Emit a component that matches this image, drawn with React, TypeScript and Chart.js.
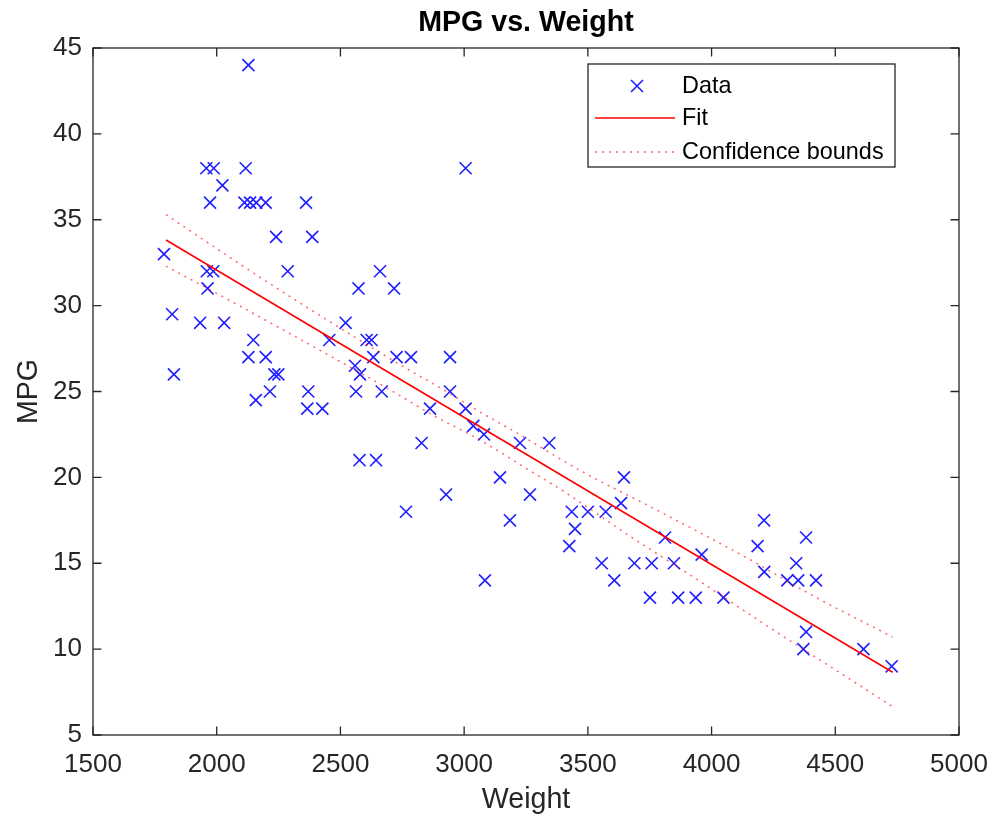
import React, { useEffect, useRef } from 'react';
import { Chart, registerables } from 'chart.js';

Chart.register(...registerables);

// ---- data ----
const weights = [
  1787, 1820, 1827, 2128, 1958, 1988, 2117, 3006, 2023, 1973,
  2112, 2135, 2160, 2198, 2361, 2240, 2386, 1960, 1986, 2287,
  2660, 1963, 2573, 2717, 1933, 2030, 2521, 2148, 2455, 2606,
  2626, 2128, 2198, 2633, 2727, 2785, 2943, 2559, 2579, 2233,
  2249, 2563, 2667, 2215, 2370, 2943, 2158, 2366, 2427, 2862,
  3006, 3037, 3080, 2828, 3226, 3344, 2577, 2644, 3145, 3646,
  2927, 3266, 2765, 3634, 3185, 3435, 3500, 3572, 3448, 3425,
  4212, 4186, 4382, 3812, 3960, 4213, 4342, 4306, 4350, 4422,
  3556, 3607, 3688, 3758, 3848, 3751, 3865, 3936, 4048, 4382,
  4371, 4614, 4728, 3084,
];
const mpg = [
  33, 29.5, 26, 44, 38, 38, 38, 38, 37, 36,
  36, 36, 36, 36, 36, 34, 34, 32, 32, 32,
  32, 31, 31, 31, 29, 29, 29, 28, 28, 28,
  28, 27, 27, 27, 27, 27, 27, 26.5, 26, 26,
  26, 25, 25, 25, 25, 25, 24.5, 24, 24, 24,
  24, 23, 22.5, 22, 22, 22, 21, 21, 20, 20,
  19, 19, 18, 18.5, 17.5, 18, 18, 18, 17, 16,
  17.5, 16, 16.5, 16.5, 15.5, 14.5, 15, 14, 14, 14,
  15, 14, 15, 15, 15, 13, 13, 13, 13, 11,
  10, 10, 9, 14,
];
const fitWeights = [1795, 4732];
const fitMpg = [33.82, 8.65];
const upperWeights = [1795, 2054, 2310, 2748, 2916, 3065, 3200, 3469, 3792, 4169, 4398, 4732];
const upperMpg = [35.3, 32.8, 30.4, 26.5, 25.1, 23.8, 22.7, 20.4, 18.0, 15.1, 13.2, 10.7];
const lowerWeights = [1795, 2040, 2700, 2889, 3037, 3131, 3253, 3401, 3657, 3926, 4209, 4732];
const lowerMpg = [32.3, 30.4, 25.1, 23.5, 22.4, 21.6, 20.5, 19.2, 16.7, 14.2, 11.5, 6.65];
const xTicks = [1500, 2000, 2500, 3000, 3500, 4000, 4500, 5000];
const yTicks = [5, 10, 15, 20, 25, 30, 35, 40, 45];
const seriesLabels = ['Data', 'Fit', 'Confidence bounds'];
const chartTitle = 'MPG vs. Weight';
const xTitle = 'Weight';
const yTitle = 'MPG';

const AXIS_COLOR = '#262626';
const FONT = "'Liberation Sans', Arial, Helvetica, sans-serif";
const BLUE = 'rgb(30,30,255)';
const RED = 'rgb(255,0,0)';
const PINK = 'rgba(255,0,0,0.6)';

const pts = (xs: number[], ys: number[]) => xs.map((x, i) => ({ x, y: ys[i] }));

const boxPlugin = {
  id: 'matlabBox',
  afterDatasetsDraw(chart: any) {
    const { ctx, chartArea: a, scales } = chart;
    const x = scales.x;
    const y = scales.y;
    ctx.save();
    ctx.strokeStyle = AXIS_COLOR;
    ctx.lineWidth = 1.3;
    ctx.strokeRect(a.left, a.top, a.right - a.left, a.bottom - a.top);
    const tl = 8.5;
    ctx.beginPath();
    x.ticks.forEach((t: any) => {
      const px = x.getPixelForValue(t.value);
      ctx.moveTo(px, a.bottom);
      ctx.lineTo(px, a.bottom - tl);
      ctx.moveTo(px, a.top);
      ctx.lineTo(px, a.top + tl);
    });
    y.ticks.forEach((t: any) => {
      const py = y.getPixelForValue(t.value);
      ctx.moveTo(a.left, py);
      ctx.lineTo(a.left + tl, py);
      ctx.moveTo(a.right, py);
      ctx.lineTo(a.right - tl, py);
    });
    ctx.stroke();
    // title centred over the axes
    ctx.fillStyle = '#000000';
    ctx.font = `bold 28.6px ${FONT}`;
    ctx.textAlign = 'center';
    ctx.textBaseline = 'middle';
    ctx.fillText(chartTitle, (a.left + a.right) / 2, 23);
    ctx.restore();
  },
};

const legendPlugin = {
  id: 'matlabLegend',
  afterDraw(chart: any) {
    const { ctx, chartArea: a } = chart;
    const ds = chart.data.datasets;
    const w = 307;
    const h = 103;
    const left = a.right - 64 - w;
    const top = a.top + 16;
    ctx.save();
    ctx.fillStyle = '#ffffff';
    ctx.fillRect(left, top, w, h);
    ctx.strokeStyle = AXIS_COLOR;
    ctx.lineWidth = 1.3;
    ctx.strokeRect(left, top, w, h);
    const rows = [top + 22, top + 54, top + 88];
    ctx.font = `23.4px ${FONT}`;
    ctx.textBaseline = 'middle';
    ctx.textAlign = 'left';
    // Data marker
    const mx = left + 49;
    const r = 6;
    ctx.strokeStyle = ds[0].borderColor;
    ctx.lineWidth = ds[0].pointBorderWidth;
    ctx.beginPath();
    ctx.moveTo(mx - r, rows[0] - r);
    ctx.lineTo(mx + r, rows[0] + r);
    ctx.moveTo(mx + r, rows[0] - r);
    ctx.lineTo(mx - r, rows[0] + r);
    ctx.stroke();
    // Fit line
    ctx.strokeStyle = ds[1].borderColor;
    ctx.lineWidth = ds[1].borderWidth;
    ctx.beginPath();
    ctx.moveTo(left + 7, rows[1]);
    ctx.lineTo(left + 87, rows[1]);
    ctx.stroke();
    // Bounds
    ctx.strokeStyle = ds[2].borderColor;
    ctx.lineWidth = ds[2].borderWidth;
    ctx.setLineDash(ds[2].borderDash);
    ctx.beginPath();
    ctx.moveTo(left + 7, rows[2]);
    ctx.lineTo(left + 87, rows[2]);
    ctx.stroke();
    ctx.setLineDash([]);
    ctx.fillStyle = '#000000';
    seriesLabels.forEach((lab, i) => ctx.fillText(lab, left + 94, rows[i] + 1));
    ctx.restore();
  },
};

export default function App() {
  const ref = useRef<HTMLCanvasElement | null>(null);
  useEffect(() => {
    if (!ref.current) return;
    const chart = new Chart(ref.current, {
      type: 'scatter',
      data: {
        datasets: [
          {
            label: seriesLabels[0],
            data: pts(weights, mpg),
            showLine: false,
            pointStyle: 'crossRot',
            pointRadius: 8.5,
            pointHoverRadius: 8.5,
            pointBorderWidth: 1.6,
            borderColor: BLUE,
            backgroundColor: BLUE,
            order: 3,
          },
          {
            label: seriesLabels[1],
            data: pts(fitWeights, fitMpg),
            showLine: true,
            pointRadius: 0,
            borderColor: RED,
            borderWidth: 1.6,
            order: 1,
          },
          {
            label: seriesLabels[2],
            data: pts(upperWeights, upperMpg),
            showLine: true,
            pointRadius: 0,
            borderColor: PINK,
            borderWidth: 1.5,
            borderDash: [2, 5],
            cubicInterpolationMode: 'monotone',
            order: 2,
          },
          {
            label: seriesLabels[2],
            data: pts(lowerWeights, lowerMpg),
            showLine: true,
            pointRadius: 0,
            borderColor: PINK,
            borderWidth: 1.5,
            borderDash: [2, 5],
            cubicInterpolationMode: 'monotone',
            order: 2,
          },
        ],
      },
      options: {
        animation: false,
        responsive: false,
        maintainAspectRatio: false,
        layout: { padding: { left: 0, right: 32, top: 48, bottom: 0 } },
        plugins: {
          legend: { display: false },
          tooltip: { enabled: false },
          title: { display: false },
        },
        scales: {
          x: {
            type: 'linear',
            min: 1500,
            max: 5000,
            afterBuildTicks: (s: any) => { s.ticks = xTicks.map((v) => ({ value: v })); },
            afterFit: (s: any) => { s.height = 83; s.paddingLeft = 0; s.paddingRight = 0; },
            grid: { display: false, drawTicks: false },
            border: { display: false },
            ticks: {
              color: AXIS_COLOR,
              font: { family: FONT, size: 26 },
              padding: 14,
              maxRotation: 0,
              autoSkip: false,
              callback: (v: any) => String(v),
            },
            title: {
              display: true,
              text: xTitle,
              color: AXIS_COLOR,
              font: { family: FONT, size: 28.6 },
              padding: { top: 0, bottom: 1 },
            },
          },
          y: {
            type: 'linear',
            min: 5,
            max: 45,
            afterBuildTicks: (s: any) => { s.ticks = yTicks.map((v) => ({ value: v })); },
            afterFit: (s: any) => { s.width = 93; s.paddingTop = 0; s.paddingBottom = 0; },
            grid: { display: false, drawTicks: false },
            border: { display: false },
            ticks: {
              color: AXIS_COLOR,
              font: { family: FONT, size: 26 },
              padding: 11,
              autoSkip: false,
              callback: (v: any) => String(v),
            },
            title: {
              display: true,
              text: yTitle,
              color: AXIS_COLOR,
              font: { family: FONT, size: 28.6 },
              padding: { top: 12, bottom: 0 },
            },
          },
        },
      },
      plugins: [boxPlugin, legendPlugin],
    } as any);
    return () => chart.destroy();
  }, []);
  return (
    <div style={{ position: 'fixed', left: 0, top: 0, width: 991, height: 818, background: '#fff' }}>
      <canvas ref={ref} width={991} height={818} style={{ display: 'block' }} />
    </div>
  );
}
